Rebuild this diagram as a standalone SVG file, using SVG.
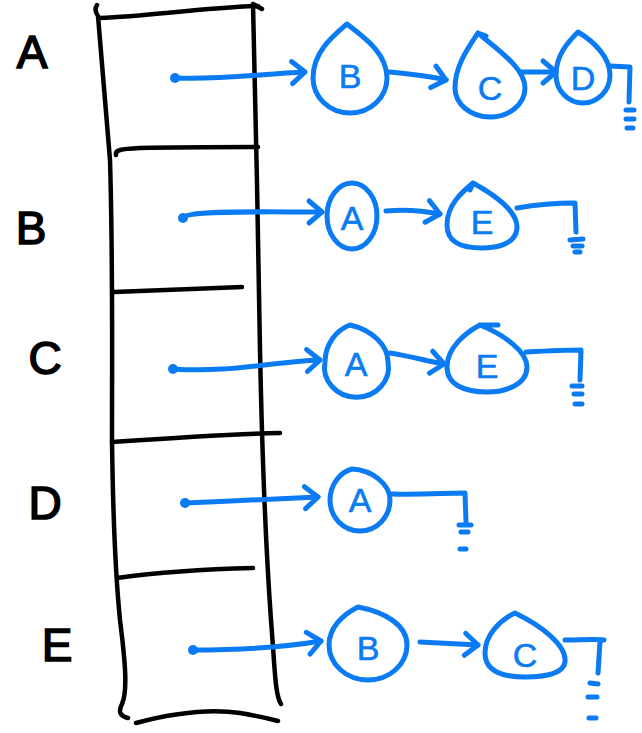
<svg xmlns="http://www.w3.org/2000/svg" width="642" height="733" viewBox="0 0 642 733">
  <style>
    .ink { fill: none; stroke: #000; stroke-width: 4.5; stroke-linecap: round; stroke-linejoin: round; }
    .label { font-family: "Liberation Sans", "DejaVu Sans", sans-serif; font-size: 46px; fill: #000; stroke: #000; stroke-width: 1.6; text-anchor: middle; dominant-baseline: central; }
    .node { fill: none; stroke: #0a7bf3; stroke-width: 5; stroke-linecap: round; stroke-linejoin: round; }
    .key { font-family: "Liberation Sans", "DejaVu Sans", sans-serif; font-size: 34px; fill: #0a7bf3; stroke: #0a7bf3; stroke-width: 0.6; text-anchor: middle; dominant-baseline: central; }
    .link { fill: none; stroke: #0a7bf3; stroke-width: 5; stroke-linecap: round; stroke-linejoin: round; }
    .dot { fill: #0a7bf3; }
  </style>
  <defs>
    <marker id="head" viewBox="-18 -16 22 32" refX="0" refY="0" markerUnits="userSpaceOnUse" markerWidth="22" markerHeight="32" orient="auto" overflow="visible">
      <path d="M-13,-11 L0,0 L-13,11" fill="none" stroke="#0a7bf3" stroke-width="5" stroke-linecap="round" stroke-linejoin="round"/>
    </marker>
  </defs>

  <rect width="642" height="733" fill="#fff"/>

  <!-- the array of list heads -->
  <g id="table">
    <path class="ink" d="M97,5 C95,8 95,12 98,16 C102,60 106,110 110,160 C113,260 112,350 112,440 C113,520 116,580 120,620 C125,660 128,690 122,704 C118,712 120,716 128,718"/>
    <path class="ink" d="M253,4 L262,9 M253,4 C256,100 258,250 260,350 C262,450 266,550 271,620 C275,670 275,695 281,704"/>
    <path class="ink" d="M100,18 C150,16 200,8 258,6"/>
    <path class="ink" d="M116,155 C115,150 120,149 140,148 C180,147 220,147 258,147"/>
    <path class="ink" d="M114,292 C160,290 200,289 242,287"/>
    <path class="ink" d="M112,442 C170,438 230,434 280,433"/>
    <path class="ink" stroke-width="5.5" d="M117,578 C160,572 210,569 253,568"/>
    <path class="ink" d="M136,723 C170,714 205,708 240,713 C258,716 270,719 278,721"/>
  </g>

  <g id="labels">
    <text class="label" x="32" y="52">A</text>
    <text class="label" x="31" y="228">B</text>
    <text class="label" x="45" y="358">C</text>
    <text class="label" x="45" y="503">D</text>
    <text class="label" x="57" y="645">E</text>
  </g>

  <!-- pointers, list links and null ends -->
  <g id="connectors">
    <circle class="dot" cx="175" cy="78" r="5"/>
    <path class="link" marker-end="url(#head)" d="M175,78 C220,80 260,74 305,72"/>
    <path class="link" marker-end="url(#head)" d="M390,72 C410,74 430,76 446,80"/>
    <path class="link" marker-end="url(#head)" d="M520,72 C532,72 545,72 556,72"/>
    <path class="link" d="M610,66 L630,67 L629,102 M626,110 L634,110 M626,119 L634,119 M627,128 L633,128"/>

    <circle class="dot" cx="183" cy="218" r="5"/>
    <path class="link" marker-end="url(#head)" d="M183,218 C186,210 260,212 322,212"/>
    <path class="link" marker-end="url(#head)" d="M386,211 C405,209 425,211 440,214"/>
    <path class="link" d="M517,208 C540,204 560,203 575,203 L576,232 M570,240 L583,239 M573,246 L582,246 M575,252 L580,252"/>

    <circle class="dot" cx="173" cy="369" r="5"/>
    <path class="link" marker-end="url(#head)" d="M173,369 C230,373 270,362 320,360"/>
    <path class="link" marker-end="url(#head)" d="M390,353 C410,356 430,362 444,364"/>
    <path class="link" d="M526,352 C545,351 565,350 581,350 L580,380 M572,386 L582,386 M574,394 L582,394 M575,404 L582,404"/>

    <circle class="dot" cx="185" cy="503" r="5"/>
    <path class="link" marker-end="url(#head)" d="M185,503 C230,501 280,499 318,497"/>
    <path class="link" d="M392,494 C420,495 445,493 465,493 L466,522 M459,525 L471,525 M461,532 L468,532 M460,549 L466,549"/>

    <circle class="dot" cx="193" cy="650" r="5"/>
    <path class="link" marker-end="url(#head)" d="M193,650 C240,650 280,648 321,641"/>
    <path class="link" marker-end="url(#head)" d="M420,642 C440,643 460,644 478,645"/>
    <path class="link" d="M565,640 C580,640 595,639 604,640 M600,642 L598,673 M590,683 L598,684 M588,697 L597,697 M589,718 L596,718"/>
  </g>

  <!-- list A -->
  <g id="a-b">
    <path class="node" d="M347,24 C362,36 387,52 387,78 A37 35 0 1 1 313,78 C313,52 333,36 347,24 Z"/>
    <text class="key" x="350" y="76">B</text>
  </g>
  <g id="a-c">
    <path class="node" d="M478,33 C498,50 525,68 525,88 A35 29 0 1 1 455,88 C455,66 468,48 478,33 Z M478,33 L486,36"/>
    <text class="key" x="490" y="88">C</text>
  </g>
  <g id="a-d">
    <path class="node" d="M578,32 C595,42 610,58 610,75 A27 28 0 1 1 556,75 C556,55 568,42 578,32 Z"/>
    <text class="key" x="583" y="78">D</text>
  </g>

  <!-- list B -->
  <g id="b-a">
    <ellipse class="node" cx="352" cy="216" rx="25" ry="33"/>
    <text class="key" x="352" y="218">A</text>
  </g>
  <g id="b-e">
    <path class="node" d="M473,183 C495,195 518,212 517,228 C516,245 495,248 482,248 C462,248 447,243 447,225 C447,205 462,192 473,183 Z M473,183 L470,190"/>
    <text class="key" x="482" y="222">E</text>
  </g>

  <!-- list C -->
  <g id="c-a">
    <path class="node" d="M350,325 C372,330 388,345 388,362 A32 30 0 1 1 325,362 C325,345 336,330 350,325 Z"/>
    <text class="key" x="356" y="364">A</text>
  </g>
  <g id="c-e">
    <path class="node" d="M480,325 C505,335 527,352 527,367 C527,385 505,392 487,392 C465,392 447,385 447,367 C447,348 465,333 480,325 Z M480,325 L498,325"/>
    <text class="key" x="487" y="366">E</text>
  </g>

  <!-- list D -->
  <g id="d-a">
    <path class="node" d="M352,469 C372,470 390,484 390,500 A30 31 0 1 1 330,500 C330,485 340,472 352,469 Z"/>
    <text class="key" x="360" y="500">A</text>
  </g>

  <!-- list E -->
  <g id="e-b">
    <path class="node" d="M358,607 C385,612 407,625 407,645 A39 35 0 1 1 329,645 C329,628 342,615 358,607 Z"/>
    <text class="key" x="368" y="648">B</text>
  </g>
  <g id="e-c">
    <path class="node" d="M515,613 C540,625 567,645 565,662 C563,675 540,677 525,677 C500,677 485,670 485,653 C485,635 500,620 515,613 Z"/>
    <text class="key" x="525" y="655">C</text>
  </g>
</svg>
